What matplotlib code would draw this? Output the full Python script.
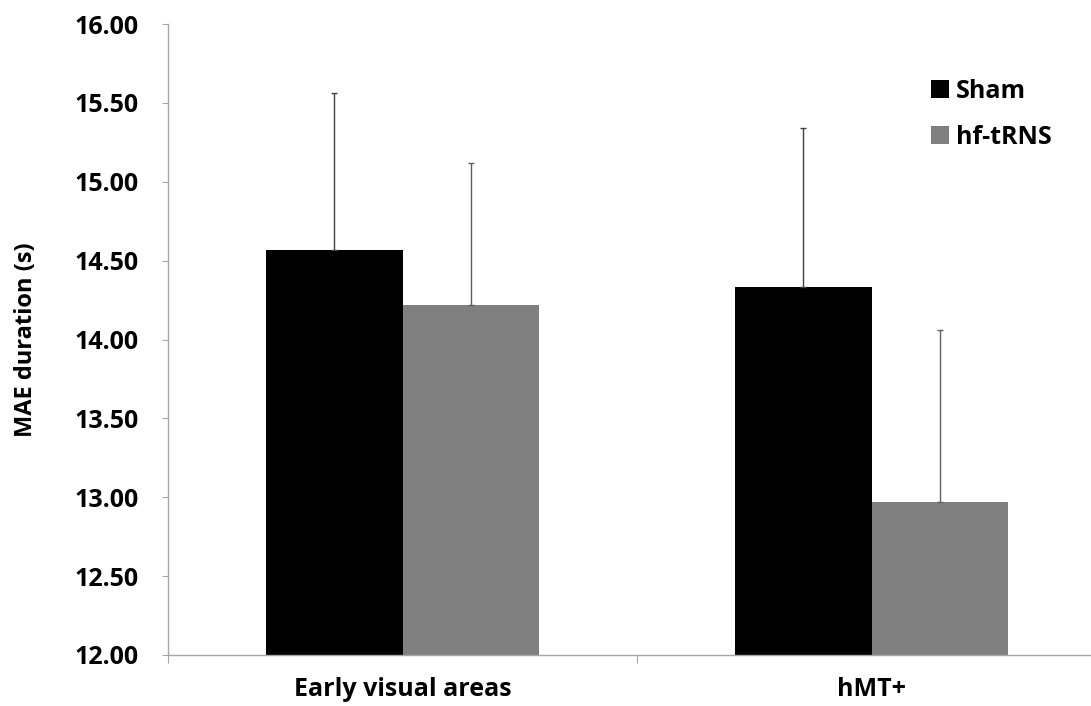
import numpy as np
from matplotlib import pyplot as plt

categories = ["Early visual areas", "hMT+"]
series = ["Sham", "hf-tRNS"]
sham_means = [14.57, 14.33]
sham_errs = [0.99, 1.01]
hf_means = [14.22, 12.97]
hf_errs = [0.90, 1.09]

plt.rcParams["font.family"] = ["Open Sans", "DejaVu Sans"]
plt.rcParams["font.weight"] = "bold"

fig = plt.figure(figsize=(10.91, 7.06), dpi=100)
ax = fig.add_axes([168 / 1091, 1 - 655 / 706, (1106 - 168) / 1091, (655 - 24) / 706])

x = np.arange(len(categories))
width = 0.29
off = 0.145
ax.bar(x - off, np.array(sham_means) - 12, width, bottom=12, color="black", label=series[0], zorder=2)
ax.bar(x + off, np.array(hf_means) - 12, width, bottom=12, color="#808080", label=series[1], zorder=2)
ax.errorbar(x - off, sham_means, yerr=[np.zeros(2), sham_errs], fmt="none",
            ecolor="#404040", elinewidth=1, capsize=2.5, capthick=1, zorder=3)
ax.errorbar(x + off, hf_means, yerr=[np.zeros(2), hf_errs], fmt="none",
            ecolor="#606060", elinewidth=1, capsize=2.5, capthick=1, zorder=3)

ax.set_ylim(12, 16)
ax.set_xlim(-0.5, 1.5)
ax.set_yticks(np.arange(12, 16.01, 0.5))
ax.set_yticklabels([f"{v:.2f}" for v in np.arange(12, 16.01, 0.5)], fontweight="bold")
ax.set_xticks([-0.5, 0.5, 1.5])
ax.set_xticklabels([])
ax.set_xticks(x, minor=True)
ax.set_xticklabels(categories, minor=True, fontweight="bold")
ax.tick_params(axis="x", which="major", length=6, color="#a6a6a6", direction="out")
ax.tick_params(axis="x", which="minor", length=0, pad=16, labelsize=18)
ax.tick_params(axis="y", length=4, color="#a6a6a6", pad=17, labelsize=18)

for side in ["top", "right"]:
    ax.spines[side].set_visible(False)
for side in ["left", "bottom"]:
    ax.spines[side].set_color("#a6a6a6")
    ax.spines[side].set_linewidth(1)

ax.set_ylabel("MAE duration (s)", fontsize=17, fontweight="bold", labelpad=26)

leg = ax.legend(loc="upper left", bbox_to_anchor=(908 / 1091, 1 - 56 / 706),
                bbox_transform=fig.transFigure, frameon=False,
                prop={"size": 18, "weight": "bold"},
                handlelength=0.75, handleheight=0.75, handletextpad=0.25, labelspacing=0.85)

fig.savefig("out.png", dpi=100)
